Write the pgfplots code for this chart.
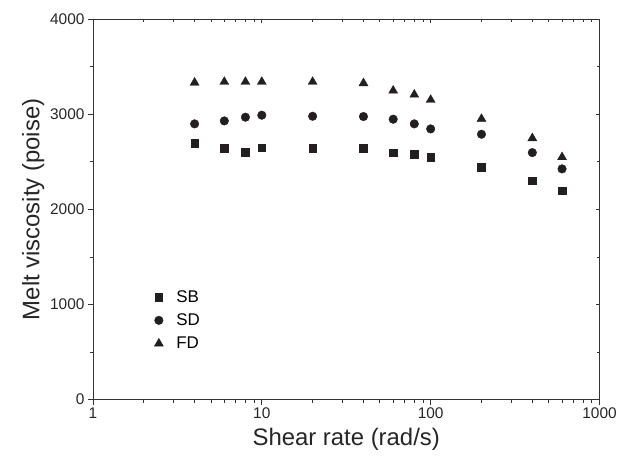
\documentclass[border=0pt]{standalone}
\usepackage{pgfplots}
\pgfplotsset{compat=1.18}
\usepackage{fontspec}
\setmainfont{Liberation Sans}
\definecolor{mk}{HTML}{231F20}
\pgfplotsset{
  every axis/.append style={
    width=507bp, height=381bp, scale only axis,
    xmin=1, xmax=1000, ymin=0, ymax=4000,
    ytick={0,1000,2000,3000,4000},
    minor ytick={500,1500,2500,3500},
    axis line style={line width=0.8pt, black!80},
    every tick/.style={black!80, line width=0.7pt},
  }
}
\begin{document}
\begin{tikzpicture}
\begin{semilogxaxis}[
  xtick pos=right, ytick pos=right, tick align=inside,
  xticklabels={}, yticklabels={},
  major tick length=4bp, minor tick length=3bp,
]
\end{semilogxaxis}
\begin{semilogxaxis}[
  xtick pos=left, ytick pos=left, tick align=outside,
  major tick length=5bp, minor tick length=3bp,
  /pgf/number format/assume math mode=true,
  /pgf/number format/1000 sep={},
  log ticks with fixed point,
  tick label style={font=\fontsize{15.5}{18}\selectfont, black!85},
  xlabel={Shear rate (rad/s)}, ylabel={Melt viscosity (poise)},
  label style={font=\fontsize{24}{28}\selectfont, black!85},
  xlabel style={yshift=-2bp},
  ylabel style={yshift=-1bp},
  legend style={at={(0.115,0.298)}, anchor=north west, draw=none, fill=none,
    font=\fontsize{17}{19}\selectfont, row sep=6bp, column sep=11bp},
  legend cell align=left,
]
\addplot[only marks, mark=square*, mark size=3.8bp, mk] coordinates {
(4,2695) (6,2642) (8,2600) (10,2646) (20,2642) (40,2642) (60,2596) (80,2579) (100,2548) (200,2440) (400,2299) (600,2197)};
\addlegendentry{SB}
\addplot[only marks, mark=*, mark size=4.3bp, mk] coordinates {
(4,2898) (6,2929) (8,2968) (10,2989) (20,2978) (40,2975) (60,2947) (80,2898) (100,2845) (200,2789) (400,2596) (600,2425)};
\addlegendentry{SD}
\addplot[only marks, mark=triangle*, mark size=5.2bp, mk] coordinates {
(4,3331) (6,3339) (8,3339) (10,3339) (20,3339) (40,3325) (60,3247) (80,3205) (100,3150) (200,2950) (400,2747) (600,2548)};
\addlegendentry{FD}
\end{semilogxaxis}
\path (current axis.south west) ++(-93bp,-66bp) rectangle ++(620bp,466bp);
\end{tikzpicture}
\end{document}
